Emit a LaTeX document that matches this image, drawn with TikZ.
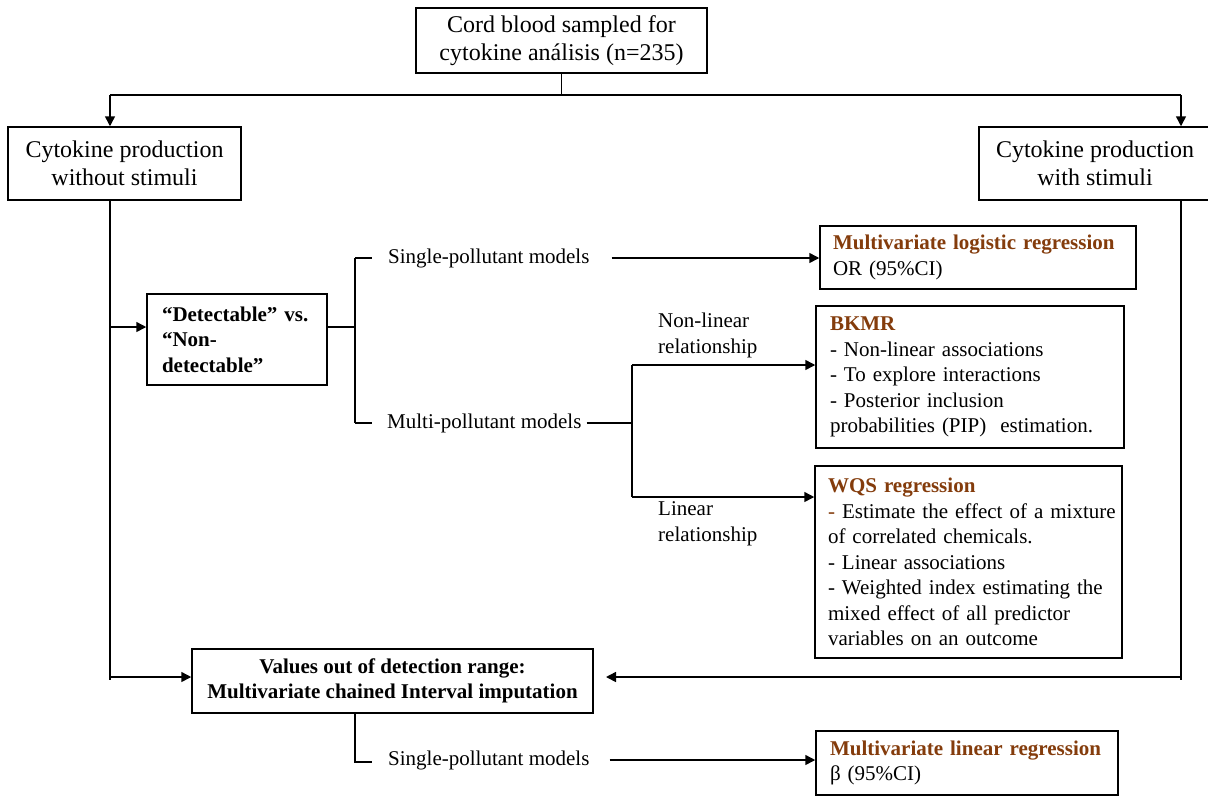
\documentclass[tikz,border=0pt]{standalone}
\usepackage{fontspec}
\setmainfont{Liberation Serif}
\usetikzlibrary{arrows.meta}
\definecolor{brn}{RGB}{132,60,12}
\begin{document}
\begin{tikzpicture}[x=1pt,y=-1pt,
  box/.style={draw, line width=1.5pt, inner sep=0pt},
  big/.style={font=\fontsize{24}{28}\selectfont, align=center},
  body/.style={font=\fontsize{21}{25.5}\selectfont},
  lbl/.style={font=\fontsize{21}{25.5}\selectfont, inner sep=0pt, anchor=west, align=left},
  ln/.style={line width=1.5pt},
  arr/.style={line width=1.5pt, -{Triangle[length=10pt,width=10pt]}}]
\useasboundingbox (0,0) rectangle (1208,796);
\fill[white] (0,0) rectangle (1208,796);

% boxes
\node[box,big,minimum width=291pt,minimum height=65pt] (top) at (561.5,40.5)
  {Cord blood sampled for\\cytokine análisis (n=235)};
\node[box,big,minimum width=233pt,minimum height=73pt] (left) at (124.5,163.5)
  {Cytokine production\\without stimuli};
\node[box,big,minimum width=232pt,minimum height=73pt] (right) at (1095,163.5)
  {Cytokine production\\with stimuli};
\node[box,body,align=left,text width=150pt,minimum width=180pt,minimum height=91pt] (det) at (237,339.5)
  {\textbf{“Detectable” vs.\\“Non-\\detectable”}};
\node[box,body,align=left,text width=290pt,minimum width=316pt,minimum height=63pt] (logi) at (978,257.5)
  {\textcolor{brn}{\textbf{Multivariate logistic regression}}\\OR (95\%CI)};
\node[box,body,align=left,text width=280pt,minimum width=308pt,minimum height=142pt] (bkmr) at (970,377)
  {\textcolor{brn}{\textbf{BKMR}}\\- Non-linear associations\\- To explore interactions\\- Posterior inclusion\\probabilities (PIP)~ estimation.};
\node[box,body,align=left,text width=281pt,minimum width=307pt,minimum height=192pt] (wqs) at (968.5,562)
  {\textcolor{brn}{\textbf{WQS regression}}\\\mbox{\textcolor{brn}{-} Estimate the effect of a mixture}\\of correlated chemicals.\\- Linear associations\\- Weighted index estimating the\\mixed effect of all predictor\\variables on an outcome};
\node[box,body,align=center,font=\fontsize{21}{25.5}\selectfont\bfseries,minimum width=401pt,minimum height=64pt] (vals) at (392.5,681)
  {Values out of detection range:\\Multivariate chained Interval imputation};
\node[box,body,align=left,text width=274pt,minimum width=302pt,minimum height=64pt] (lin) at (967,763)
  {\textcolor{brn}{\textbf{Multivariate linear regression}}\\β (95\%CI)};

% labels
\node[lbl] (sp1) at (388,258) {Single-pollutant models};
\node[lbl] (mp) at (387,423) {Multi-pollutant models};
\node[lbl] (nl) at (658,335.5) {Non-linear\\relationship};
\node[lbl] (lr) at (658,524) {Linear\\relationship};
\node[lbl] (sp2) at (388,760) {Single-pollutant models};

% coordinates
\coordinate (jL) at (110,95);
\coordinate (jR) at (1181,95);
\coordinate (lb) at (110,680);
\coordinate (rb) at (1181,680);
\coordinate (dy) at (0,327);
\coordinate (vy) at (0,677);
\coordinate (s1) at (355,258);
\coordinate (s2) at (355,423);
\coordinate (s3) at (355,762);
\coordinate (m0) at (632,423);
\coordinate (m1) at (632,365);
\coordinate (m2) at (632,497);
\coordinate (ve) at (606,677);

% connectors
\draw[ln] (top.south) -- (top.south |- jL);
\draw[ln] (jL) -- (jR);
\draw[arr] (jL) -- (jL |- left.north);
\draw[arr] (jR) -- (jR |- right.north);
\draw[ln] (jL |- left.south) -- (lb);
\draw[ln] (jR |- right.south) -- (rb);
\draw[arr] (jL |- dy) -- (det.west |- dy);
\draw[ln] (det.east |- dy) -- (s1 |- dy);
\draw[ln] (s1) -- (s2);
\draw[ln] (s1) -- ++(17,0);
\draw[ln] (s2) -- ++(17,0);
\draw[arr] ([xshift=22pt]sp1.east) -- (sp1.east -| logi.west);
\draw[ln] ([xshift=5pt]mp.east) -- (m0);
\draw[ln] (m1) -- (m2);
\draw[arr] (m1) -- (m1 -| bkmr.west);
\draw[arr] (m2) -- (m2 -| wqs.west);
\draw[arr] (jL |- vy) -- (vals.west |- vy);
\draw[arr] (jR |- vy) -- (ve);
\draw[ln] (vals.south -| s3) -- (s3) -- ++(17,0);
\draw[arr] ([xshift=20pt]sp2.east) -- (sp2.east -| lin.west);
\end{tikzpicture}
\end{document}
